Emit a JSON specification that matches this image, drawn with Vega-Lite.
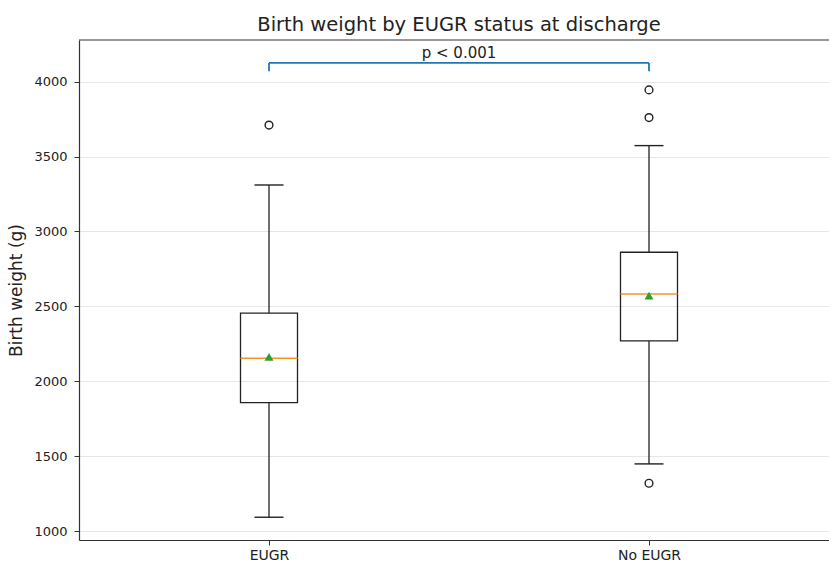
{
  "$schema": "https://vega.github.io/schema/vega-lite/v6.json",
  "autosize": {"type": "none"},
  "width": 750,
  "height": 500,
  "padding": {"left": 79, "top": 40, "right": 0, "bottom": 23},
  "background": "white",
  "config": {
    "font": "DejaVu Sans",
    "view": {"stroke": null},
    "axis": {"labelFont": "DejaVu Sans", "titleFont": "DejaVu Sans", "labelColor": "#222222", "titleColor": "#222222", "tickColor": "#333333", "domain": true, "domainColor": "#333333", "domainWidth": 1.2}
  },
  "title": {"text": "Birth weight by EUGR status at discharge", "fontSize": 19.5, "fontWeight": "normal", "color": "#222222", "font": "DejaVu Sans", "offset": 4, "anchor": "middle", "frame": "group", "dx": 5},
  "datasets": {
    "stats": [
      {"group": "EUGR", "pos": 1, "lower": 1092, "q1": 1857, "median": 2154, "mean": 2163, "q3": 2454, "upper": 3310},
      {"group": "No EUGR", "pos": 2, "lower": 1448, "q1": 2269, "median": 2583, "mean": 2572, "q3": 2861, "upper": 3573}
    ],
    "outliers": [
      {"group": "EUGR", "pos": 1, "value": 3710},
      {"group": "No EUGR", "pos": 2, "value": 3945},
      {"group": "No EUGR", "pos": 2, "value": 3760},
      {"group": "No EUGR", "pos": 2, "value": 1319}
    ],
    "bracket": [
      {"x": 1, "x2": 2, "y": 4125, "ylow": 4070, "mid": 1.5, "label": "p < 0.001", "ytext": 4190}
    ]
  },
  "layer": [
    {
      "data": {"name": "stats"},
      "mark": {"type": "rule", "color": "#222222", "strokeWidth": 1.3},
      "encoding": {
        "x": {"field": "pos", "type": "quantitative", "scale": {"domain": [0.5, 2.4737], "nice": false, "zero": false, "padding": 0},
          "axis": {"values": [1, 2], "labelExpr": "datum.value == 1 ? 'EUGR' : 'No EUGR'", "title": null, "grid": false, "labelFontSize": 14, "tickSize": 5, "labelPadding": 3}},
        "y": {"field": "lower", "type": "quantitative", "scale": {"domain": [940, 4278], "nice": false, "zero": false, "padding": 0},
          "axis": {"values": [1000, 1500, 2000, 2500, 3000, 3500, 4000], "format": "d", "title": "Birth weight (g)", "titleFontSize": 17, "titleFontWeight": "normal", "labelFontSize": 13, "tickSize": 5, "labelPadding": 7, "titlePadding": 8, "grid": true, "gridColor": "#e6e6e6", "gridWidth": 1}},
        "y2": {"field": "q1"}
      }
    },
    {
      "data": {"name": "stats"},
      "mark": {"type": "rule", "color": "#222222", "strokeWidth": 1.3},
      "encoding": {
        "x": {"field": "pos", "type": "quantitative"},
        "y": {"field": "q3", "type": "quantitative"},
        "y2": {"field": "upper"}
      }
    },
    {
      "data": {"name": "stats"},
      "mark": {"type": "tick", "orient": "horizontal", "size": 29, "thickness": 1.4, "color": "#222222", "opacity": 1},
      "encoding": {
        "x": {"field": "pos", "type": "quantitative"},
        "y": {"field": "lower", "type": "quantitative"}
      }
    },
    {
      "data": {"name": "stats"},
      "mark": {"type": "tick", "orient": "horizontal", "size": 29, "thickness": 1.4, "color": "#222222", "opacity": 1},
      "encoding": {
        "x": {"field": "pos", "type": "quantitative"},
        "y": {"field": "upper", "type": "quantitative"}
      }
    },
    {
      "data": {"name": "stats"},
      "mark": {"type": "bar", "width": 57, "fillOpacity": 0, "fill": "white", "stroke": "#222222", "strokeWidth": 1.3},
      "encoding": {
        "x": {"field": "pos", "type": "quantitative"},
        "y": {"field": "q1", "type": "quantitative"},
        "y2": {"field": "q3"}
      }
    },
    {
      "data": {"name": "stats"},
      "mark": {"type": "tick", "orient": "horizontal", "size": 57, "thickness": 1.5, "color": "#f0952a", "opacity": 1},
      "encoding": {
        "x": {"field": "pos", "type": "quantitative"},
        "y": {"field": "median", "type": "quantitative"}
      }
    },
    {
      "data": {"name": "stats"},
      "mark": {"type": "point", "shape": "triangle-up", "filled": true, "size": 80, "color": "#2ca02c", "opacity": 1},
      "encoding": {
        "x": {"field": "pos", "type": "quantitative"},
        "y": {"field": "mean", "type": "quantitative"}
      }
    },
    {
      "data": {"name": "outliers"},
      "mark": {"type": "point", "shape": "circle", "filled": false, "size": 60, "color": "#222222", "strokeWidth": 1.4, "opacity": 1},
      "encoding": {
        "x": {"field": "pos", "type": "quantitative"},
        "y": {"field": "value", "type": "quantitative"}
      }
    },
    {
      "data": {"name": "bracket"},
      "mark": {"type": "rule", "color": "#1f77b4", "strokeWidth": 1.8},
      "encoding": {
        "x": {"field": "x", "type": "quantitative"},
        "x2": {"field": "x2"},
        "y": {"field": "y", "type": "quantitative"}
      }
    },
    {
      "data": {"name": "bracket"},
      "mark": {"type": "rule", "color": "#1f77b4", "strokeWidth": 1.8},
      "encoding": {
        "x": {"field": "x", "type": "quantitative"},
        "y": {"field": "ylow", "type": "quantitative"},
        "y2": {"field": "y"}
      }
    },
    {
      "data": {"name": "bracket"},
      "mark": {"type": "rule", "color": "#1f77b4", "strokeWidth": 1.8},
      "encoding": {
        "x": {"field": "x2", "type": "quantitative"},
        "y": {"field": "ylow", "type": "quantitative"},
        "y2": {"field": "y"}
      }
    },
    {
      "data": {"name": "bracket"},
      "mark": {"type": "rule", "color": "#333333", "strokeWidth": 1.2},
      "encoding": {
        "y": {"datum": 4278, "type": "quantitative"}
      }
    },
    {
      "data": {"name": "bracket"},
      "mark": {"type": "text", "fontSize": 15, "color": "#222222", "baseline": "middle", "align": "center"},
      "encoding": {
        "x": {"field": "mid", "type": "quantitative"},
        "y": {"field": "ytext", "type": "quantitative"},
        "text": {"field": "label"}
      }
    }
  ]
}
